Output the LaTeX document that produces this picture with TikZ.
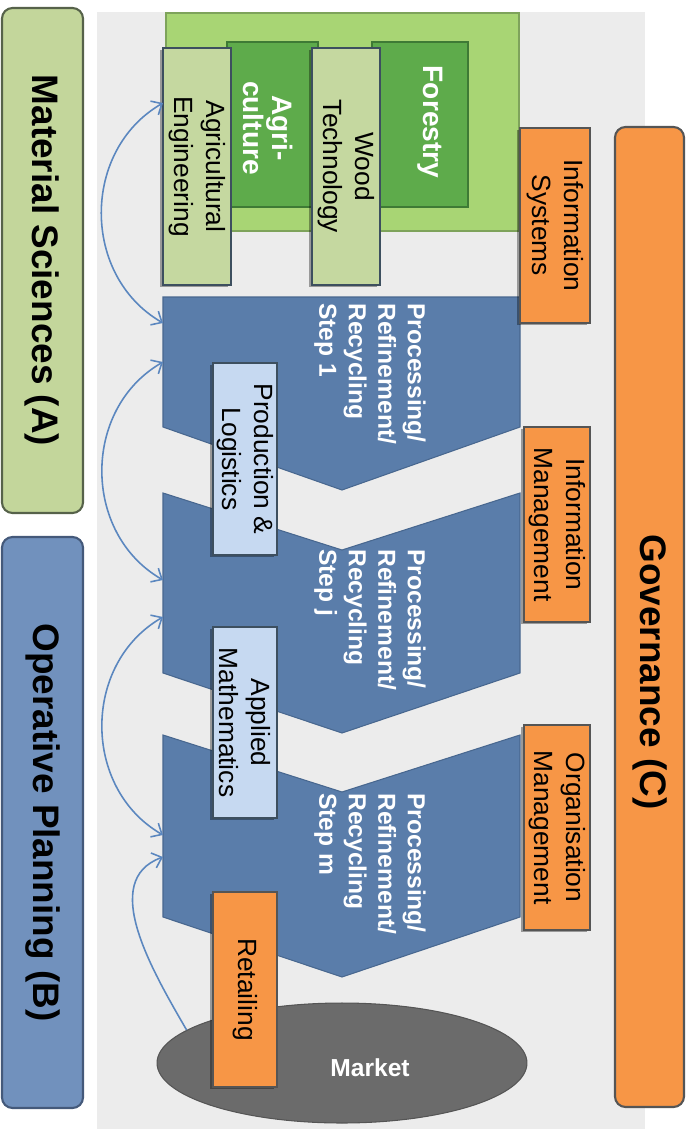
\documentclass[tikz,border=0pt]{standalone}
\usepackage{fontspec}
\setmainfont{Liberation Sans}
\usetikzlibrary{fit,shapes.geometric,arrows.meta,shadows}

\definecolor{panelgray}{HTML}{ECECEC}
\definecolor{matgreen}{HTML}{C3D69B}
\definecolor{matgreenD}{HTML}{56624A}
\definecolor{opblue}{HTML}{7191BD}
\definecolor{opblueD}{HTML}{44597A}
\definecolor{govorange}{HTML}{F79646}
\definecolor{boxline}{HTML}{555555}
\definecolor{fieldgreen}{HTML}{A8D574}
\definecolor{fieldgreenD}{HTML}{7EA35B}
\definecolor{cropgreen}{HTML}{5EAB4B}
\definecolor{cropgreenD}{HTML}{3E7A35}
\definecolor{palegreen}{HTML}{C5D8A0}
\definecolor{slate}{HTML}{3D4F5F}
\definecolor{chevblue}{HTML}{5A7DAA}
\definecolor{chevblueD}{HTML}{48678F}
\definecolor{paleblue}{HTML}{C6D9F1}
\definecolor{marketgray}{HTML}{6B6B6B}
\definecolor{linkblue}{HTML}{5B87BF}

\tikzset{barbtip/.tip={Straight Barb[length=5pt, width=9pt]}}

\begin{document}
\begin{tikzpicture}[x=0.02cm,y=-0.02cm,
  area/.style={inner sep=0pt, line width=1pt},
  soft/.style={drop shadow={shadow xshift=-1.6pt, shadow yshift=-1.2pt, opacity=0.35, fill=black}},
  pillar/.style={area, rounded corners=6pt, line width=1.2pt},
  bigtxt/.style={rotate=-90, font=\bfseries\fontsize{21}{25}\selectfont},
  smalltxt/.style={rotate=-90, align=center, inner sep=0pt, font=\fontsize{15}{18}\selectfont},
  croptxt/.style={rotate=-90, align=center, inner sep=0pt, text=white, font=\bfseries\fontsize{16}{17}\selectfont},
  steptxt/.style={rotate=-90, align=left, anchor=west, inner sep=0pt, text=white, font=\bfseries\fontsize{14}{16.8}\selectfont},
  unit/.style={area, soft, fill=palegreen, draw=slate},
  method/.style={area, soft, fill=paleblue, draw=slate},
  mgmt/.style={area, soft, fill=govorange, draw=boxline},
  chevron/.style={fill=chevblue, draw=chevblueD, line width=0.6pt, line join=miter},
  link/.style={draw=linkblue, line width=0.9pt}
]
\useasboundingbox (0,0) rectangle (697,1129);

% background panel
\fill[panelgray] (97,12) rectangle (645,1129);

% left pillars
\node[pillar, fill=matgreen, draw=matgreenD, fit={(2,8) (83,513)}] (matsci) {};
\node[bigtxt] at (matsci.center) {Material Sciences (A)};
\node[pillar, fill=opblue, draw=opblueD, fit={(2,537) (83,1108)}] (oper) {};
\node[bigtxt] at (oper.center) {Operative Planning (B)};

% primary production
\node[area, fill=fieldgreen, draw=fieldgreenD, fit={(166,13) (519,231)}] (field) {};
\node[area, fill=cropgreen, draw=cropgreenD, fit={(227,42) (318,207)}] (agri) {};
\node[croptxt] at (268,128) {Agri-\\culture};
\node[area, fill=cropgreen, draw=cropgreenD, fit={(372,42) (468,207)}] (forest) {};
\node[croptxt] at (430,122) {Forestry};
\node[unit, fit={(163,48) (231,285)}] (agreng) {};
\node[smalltxt] at (agreng.center) {Agricultural\\Engineering};
\node[unit, fit={(312,48) (380,285)}] (wood) {};
\node[smalltxt] at (wood.center) {Wood\\Technology};

% processing chain
\draw[chevron] (163,297) -- (520,297) -- (520,427) -- (342,490) -- (163,427) -- cycle;
\node[steptxt] (s1) at (370,303) {Processing/\\Refinement/\\Recycling\\Step 1};
\draw[chevron] (163,493) -- (342,550) -- (520,493) -- (520,673) -- (342,733) -- (163,673) -- cycle;
\node[steptxt] (sj) at (370,549) {Processing/\\Refinement/\\Recycling\\Step j};
\draw[chevron] (163,735) -- (342,792) -- (520,735) -- (520,917) -- (342,977) -- (163,917) -- cycle;
\node[steptxt] (sm) at (370,793) {Processing/\\Refinement/\\Recycling\\Step m};

% market
\node[ellipse, inner sep=0pt, minimum width=7.4cm, minimum height=2.4cm,
      fill=marketgray, draw=boxline, line width=0.6pt] (market) at (342,1063) {};
\node[text=white, font=\bfseries\fontsize{14}{16}\selectfont] (markettxt) at (370,1068) {Market};

% methods along the chain
\node[method, fit={(213,363) (277,555)}] (prodlog) {};
\node[smalltxt] at (prodlog.center) {Production \&\\Logistics};
\node[method, fit={(213,627) (277,818)}] (applmath) {};
\node[smalltxt] at (applmath.center) {Applied\\Mathematics};
\node[mgmt, fit={(213,892) (277,1087)}] (retail) {};
\node[smalltxt] at (retail.center) {Retailing};

% governance side
\node[mgmt, fit={(520,128) (590,323)}] (infosys) {};
\node[smalltxt] at (infosys.center) {Information\\Systems};
\node[mgmt, fit={(524,427) (590,622)}] (infomgmt) {};
\node[smalltxt] at (infomgmt.center) {Information\\Management};
\node[mgmt, fit={(524,725) (590,930)}] (orgmgmt) {};
\node[smalltxt] at (orgmgmt.center) {Organisation\\Management};
\node[pillar, fill=govorange, draw=boxline, fit={(615,127) (684,1107)}] (gov) {};
\node[bigtxt] at (650,672) {Governance (C)};

% material flow links
\coordinate (engport) at (163,103);
\coordinate (s1top) at (163,323);
\coordinate (s1low) at (163,362);
\coordinate (sjtop) at (163,580);
\coordinate (sjlow) at (163,617);
\coordinate (smtop) at (163,835);
\coordinate (smlow) at (163,857);
\draw[link, barbtip-barbtip] (engport) to[out=210, in=150, looseness=1.1] (s1top);
\draw[link, barbtip-barbtip] (s1low) to[out=210, in=150, looseness=1.1] (sjtop);
\draw[link, barbtip-barbtip] (sjlow) to[out=210, in=150, looseness=1.1] (smtop);
\draw[link, -barbtip] (market.168) to[out=120, in=200] (smlow);
\end{tikzpicture}
\end{document}
